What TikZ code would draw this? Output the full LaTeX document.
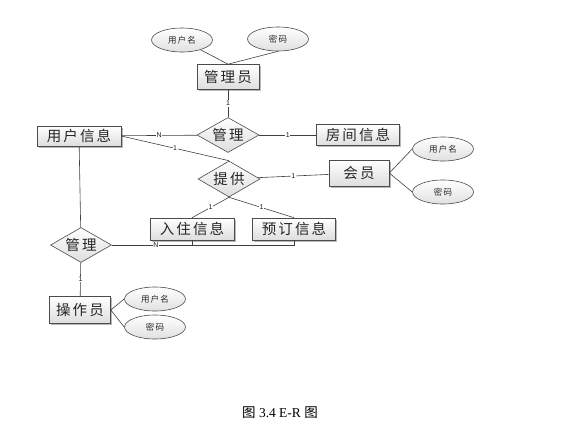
\documentclass[tikz,border=0pt]{standalone}
\usepackage{fontspec}
\setmainfont{Liberation Serif}
\newfontfamily\cjk[LetterSpace=14]{Noto Sans CJK SC}
\newfontfamily\capcjk{Noto Sans CJK SC}
\newfontfamily\lblfont{Liberation Sans}
\usetikzlibrary{shapes.geometric, shadows, calc}

\begin{document}
\begin{tikzpicture}[x=1pt, y=-1pt,
  entity/.style={rectangle, draw=black!70, line width=.6pt, top color=white, bottom color=black!13,
    drop shadow={shadow xshift=1.6pt, shadow yshift=-1.6pt, fill=black!50, opacity=.55},
    inner sep=0pt, text=black!85, font=\cjk\fontsize{14.5}{14.5}\selectfont},
  relation/.style={diamond, draw=black!70, line width=.6pt, top color=white, bottom color=black!13,
    aspect=1.8, minimum width=62pt, minimum height=35pt, inner sep=0pt, text=black!85,
    font=\cjk\fontsize{14.5}{14.5}\selectfont},
  attr/.style={ellipse, draw=black!70, line width=.6pt, top color=white, bottom color=black!12,
    minimum width=61pt, minimum height=24pt, inner sep=0pt, text=black!85,
    font=\cjk\fontsize{8.5}{8.5}\selectfont},
  link/.style={draw=black!75, line width=.6pt},
  card/.style={fill=white, inner sep=.6pt, text=black!90, font=\lblfont\fontsize{7}{7}\selectfont}]
\useasboundingbox (0,0) rectangle (565,437);

\node[entity, minimum width=62pt, minimum height=25pt] (admin) at (228,77) {管理员};
\node[attr] (admin name) at (182,40) {用户名};
\node[attr] (admin pwd) at (278,39) {密码};

\node[relation] (manage top) at (228,135) {管理};
\node[entity, minimum width=84pt, minimum height=20pt] (user info) at (79,136) {用户信息};
\node[entity, minimum width=83pt, minimum height=21pt] (room info) at (358,135) {房间信息};

\node[relation, minimum height=36pt] (provide) at (229,179) {提供};
\node[entity, minimum width=60pt, minimum height=26pt] (member) at (359,173) {会员};
\node[attr] (member name) at (443,149) {用户名};
\node[attr] (member pwd) at (443,192) {密码};

\node[entity, minimum width=84pt, minimum height=22pt] (checkin) at (192,229) {入住信息};
\node[entity, minimum width=83pt, minimum height=22pt] (booking) at (294,229) {预订信息};

\node[relation, minimum width=61pt] (manage low) at (81,245) {管理};
\node[entity, minimum width=61pt, minimum height=27pt] (operator) at (80,310) {操作员};
\node[attr] (op name) at (155,299) {用户名};
\node[attr] (op pwd) at (155,327) {密码};

\node[font=\fontsize{13.5}{13.5}\selectfont] (caption) at (280,413) {{\capcjk 图} 3.4 E-R {\capcjk 图}};

\draw[link] (admin name) -- (admin.north);
\draw[link] (admin pwd.south) -- (admin.north);
\draw[link] (admin) -- node[card]{1} (manage top);
\draw[link] (user info) -- node[card]{N} (manage top);
\draw[link] (manage top) -- node[card]{1} (room info);

\draw[link] (user info.east) -- node[card]{1} (provide.north);
\draw[link] (provide) -- node[card]{1} (member);
\draw[link] (member.east) -- (member name.west);
\draw[link] (member.east) -- (member pwd.west);
\draw[link] (provide.south) -- node[card]{1} (checkin.north);
\draw[link] (provide.south) -- node[card]{1} (booking.north);

\draw[link] (user info) -- (manage low);
\draw[link] (manage low.east) -- node[card, pos=.55]{N} (checkin.south |- manage low.east) -| (checkin.south);
\draw[link] (checkin.south |- manage low.east) -| (booking.south);
\draw[link] (manage low) -- node[card]{1} (operator);
\draw[link] (operator.east) -- (op name.west);
\draw[link] (operator.east) -- (op pwd.west);

\end{tikzpicture}
\end{document}
